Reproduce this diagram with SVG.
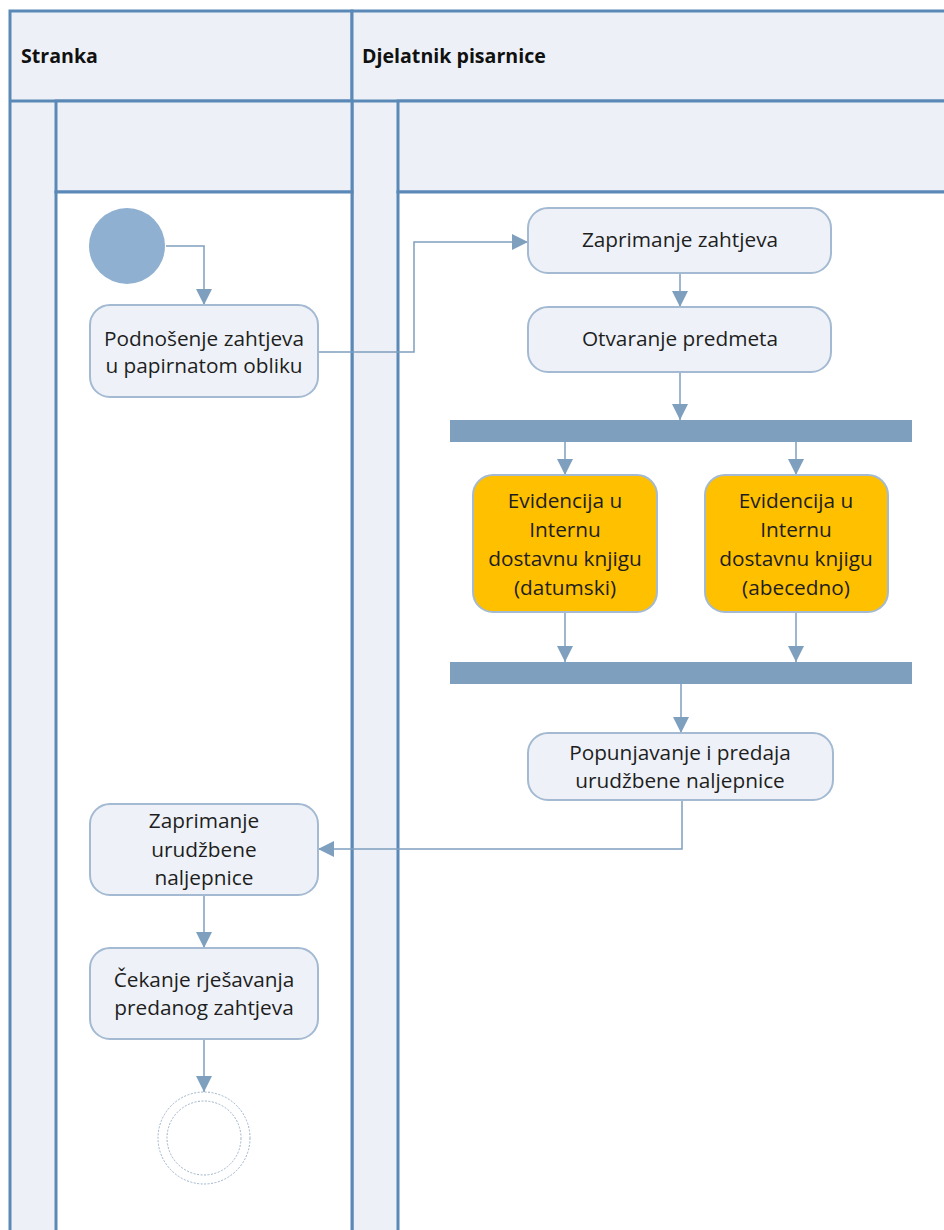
<svg xmlns="http://www.w3.org/2000/svg" width="944" height="1230" viewBox="0 0 944 1230">
<style>
.lane{fill:#EDF1F7;stroke:#5A89B8;stroke-width:3}
.body{fill:#FFFFFF;stroke:#5A89B8;stroke-width:3}
.act{fill:#EEF2F8;stroke:#A3BAD2;stroke-width:2}
.org{fill:#FFC000;stroke:#A3BAD2;stroke-width:2}
.bar{fill:#7F9FBE}
.t{font-family:"Open Sans","Liberation Sans",sans-serif;font-size:20.8px;fill:#1E1E1E;text-anchor:middle}
.h{font-family:"Open Sans","Liberation Sans",sans-serif;font-size:19.6px;font-weight:bold;fill:#111111}
.c{fill:none;stroke:#7F9FBE;stroke-width:1.5}
</style>
<defs>
<marker id="ahb" viewBox="0 0 16 16" refX="16" refY="8" markerWidth="16" markerHeight="16" markerUnits="userSpaceOnUse" orient="auto">
<path d="M0,0 L16,8 L0,16 z" fill="#7F9FBE"/>
</marker>
</defs>
<g id="lanes">
<rect class="lane" x="10" y="11" width="342" height="1230"/>
<rect class="lane" x="352" y="11" width="600" height="1230"/>
<line class="lane" x1="10" y1="101" x2="952" y2="101"/>
<rect class="lane" x="56" y="101" width="296" height="91"/>
<rect class="body" x="56" y="192" width="296" height="1050"/>
<rect class="lane" x="398" y="101" width="560" height="91"/>
<rect class="body" x="398" y="192" width="560" height="1050"/>
<text class="h" x="21" y="63">Stranka</text>
<text class="h" x="362" y="63">Djelatnik pisarnice</text>
</g>
<g id="connectors">
<path class="c" d="M166,246 H204 V305" marker-end="url(#ahb)"/>
<path class="c" d="M318,352 H414 V242 H528" marker-end="url(#ahb)"/>
<path class="c" d="M680,273 V307" marker-end="url(#ahb)"/>
<path class="c" d="M680,372 V420" marker-end="url(#ahb)"/>
<path class="c" d="M565,442 V475" marker-end="url(#ahb)"/>
<path class="c" d="M796,442 V475" marker-end="url(#ahb)"/>
<path class="c" d="M565,612 V662" marker-end="url(#ahb)"/>
<path class="c" d="M796,612 V662" marker-end="url(#ahb)"/>
<path class="c" d="M681,684 V733" marker-end="url(#ahb)"/>
<path class="c" d="M682,800 V849 H318" marker-end="url(#ahb)"/>
<path class="c" d="M204,895 V948" marker-end="url(#ahb)"/>
<path class="c" d="M204,1039 V1092" marker-end="url(#ahb)"/>
</g>
<g id="start"><circle cx="127" cy="246" r="38" fill="#8FB0D0"/></g>
<g id="n1">
<rect class="act" x="90" y="305" width="228" height="92" rx="20"/>
<text class="t" x="204" y="346">Podnošenje zahtjeva</text>
<text class="t" x="204" y="373">u papirnatom obliku</text>
</g>
<g id="n2">
<rect class="act" x="528" y="208" width="303" height="65" rx="20"/>
<text class="t" x="680" y="247">Zaprimanje zahtjeva</text>
</g>
<g id="n3">
<rect class="act" x="528" y="307" width="303" height="65" rx="20"/>
<text class="t" x="680" y="346">Otvaranje predmeta</text>
</g>
<g id="fork"><rect class="bar" x="450" y="420" width="462" height="22"/></g>
<g id="n4">
<rect class="org" x="473" y="475" width="184" height="137" rx="20"/>
<text class="t" x="565" y="508">Evidencija u</text>
<text class="t" x="565" y="537">Internu</text>
<text class="t" x="565" y="566">dostavnu knjigu</text>
<text class="t" x="565" y="595">(datumski)</text>
</g>
<g id="n5">
<rect class="org" x="705" y="475" width="183" height="137" rx="20"/>
<text class="t" x="796" y="508">Evidencija u</text>
<text class="t" x="796" y="537">Internu</text>
<text class="t" x="796" y="566">dostavnu knjigu</text>
<text class="t" x="796" y="595">(abecedno)</text>
</g>
<g id="join"><rect class="bar" x="450" y="662" width="462" height="22"/></g>
<g id="n6">
<rect class="act" x="528" y="733" width="305" height="67" rx="20"/>
<text class="t" x="680" y="760">Popunjavanje i predaja</text>
<text class="t" x="680" y="788">urudžbene naljepnice</text>
</g>
<g id="n7">
<rect class="act" x="90" y="804" width="228" height="91" rx="20"/>
<text class="t" x="204" y="828">Zaprimanje</text>
<text class="t" x="204" y="857">urudžbene</text>
<text class="t" x="204" y="885">naljepnice</text>
</g>
<g id="n8">
<rect class="act" x="90" y="948" width="228" height="91" rx="20"/>
<text class="t" x="204" y="987">Čekanje rješavanja</text>
<text class="t" x="204" y="1015">predanog zahtjeva</text>
</g>
<g id="end">
<circle cx="204" cy="1138" r="46" fill="#FFFFFF" stroke="#9DB3CB" stroke-width="1" stroke-dasharray="2,1.5"/>
<circle cx="204" cy="1138" r="37" fill="none" stroke="#9DB3CB" stroke-width="1" stroke-dasharray="2,1.5"/>
</g>
</svg>
